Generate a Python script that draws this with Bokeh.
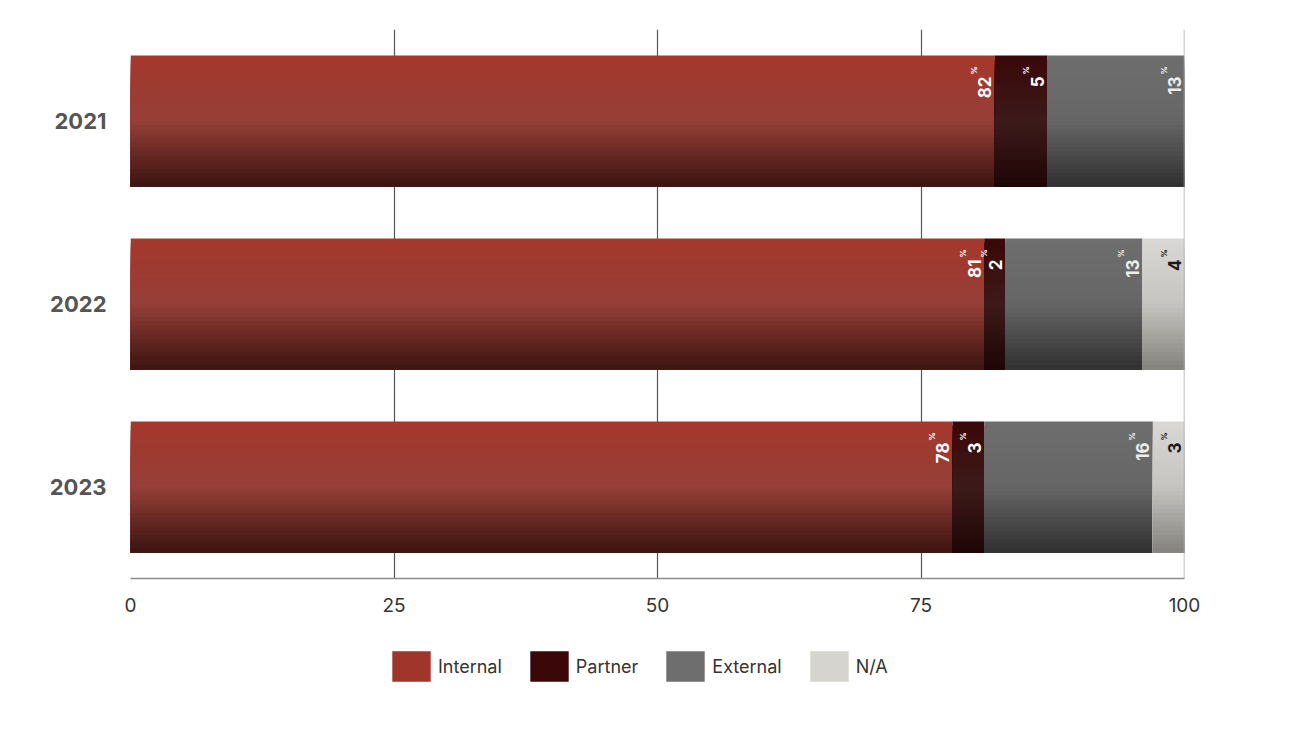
import numpy as np
from bokeh.plotting import figure
from bokeh.models import ColumnDataSource, FactorRange, FixedTicker, Legend, LegendItem, Span
from bokeh.layouts import column
from bokeh.transform import dodge
from bokeh.core.properties import value
from bokeh.embed import file_html
from bokeh.resources import INLINE

# data (percent of respondents)
years = ["2021", "2022", "2023"]
categories = ["Internal", "Partner", "External", "N/A"]
internal = [82, 81, 78]
partner = [5, 2, 3]
external = [13, 13, 16]
not_applicable = [0, 4, 3]
x_ticks = [0, 25, 50, 75, 100]

series = [internal, partner, external, not_applicable]

# gradient stops per category (top, middle, bottom) and legend swatch
stops = {
    "Internal": ["#a5382c", "#953f38", "#3e1511"],
    "Partner": ["#3a0808", "#3d1a1a", "#1f0606"],
    "External": ["#6e6e6e", "#666666", "#323232"],
    "N/A": ["#d9d7d3", "#c6c4c0", "#86847f"],
}
swatch = {"Internal": "#a0352b", "Partner": "#3a0808", "External": "#6e6e6e", "N/A": "#d6d4cf"}
label_color = {"Internal": "#ffffff", "Partner": "#ffffff", "External": "#eeeeee", "N/A": "#1a1a1a"}

FONT = "Inter"
BAR_H = 0.716
N_STRIPS = 30


def hex_rgb(h):
    return np.array([int(h[i:i + 2], 16) for i in (1, 3, 5)], dtype=float)


def blend(cols, t):
    # t = 0 top, 1 bottom
    if t < 0.5:
        a, b, u = cols[0], cols[1], t / 0.5
    else:
        a, b, u = cols[1], cols[2], (t - 0.5) / 0.5
    c = hex_rgb(a) * (1 - u) + hex_rgb(b) * u
    return "#%02x%02x%02x" % tuple(int(round(v)) for v in c)


p = figure(y_range=FactorRange(factors=years[::-1]), x_range=(0, 100),
           width=1284, height=630,
           min_border_left=130, min_border_top=29, min_border_right=100, min_border_bottom=52,
           output_backend="svg", toolbar_location=None)

# separate strip of a figure that only carries the legend
leg = figure(y_range=FactorRange(factors=years), x_range=(1000, 1100),
             width=1284, height=60, min_border=0,
             x_axis_location=None, y_axis_location=None,
             output_backend="svg", toolbar_location=None)
leg.grid.grid_line_color = None
leg.outline_line_color = None

left = np.zeros(len(years))
label_x, label_y, label_t, label_c = [], [], [], []
legend_items = []
sh = BAR_H / N_STRIPS
for cat, vals in zip(categories, series):
    vals = np.array(vals, dtype=float)
    right = left + vals
    src = ColumnDataSource(dict(year=years, left=left.copy(), right=right.copy()))
    # each strip runs from its own top down to the bar bottom, drawn top first,
    # so the later (darker) strips cover the lower part without seams
    for k in range(N_STRIPS):
        top = BAR_H / 2 - k * sh
        bot = -BAR_H / 2
        col = blend(stops[cat], k / (N_STRIPS - 1))
        p.hbar(y=dodge("year", (top + bot) / 2, range=p.y_range), left="left", right="right",
               height=top - bot, source=src, fill_color=col, line_color=None)
    # same bars in the legend strip, flat and outside its visible x range
    r = leg.hbar(y="year", left="left", right="right", height=0, source=src,
                 fill_color=swatch[cat], line_color=None)
    legend_items.append(LegendItem(label=cat, renderers=[r], index=len(years) - 1))
    for yr, v, rr in zip(years, vals, right):
        if v > 0:
            label_x.append(rr)
            label_y.append(yr)
            label_t.append("%d" % v)
            label_c.append(label_color[cat])
    left = right

lab = ColumnDataSource(dict(x=label_x, y=label_y, text=label_t, color=label_c,
                            pct=["%"] * len(label_t)))
top_y = dodge("y", BAR_H / 2, range=p.y_range)
p.text(x="x", y=top_y, text="text", source=lab, angle=np.pi / 2,
       text_align="right", text_baseline="alphabetic", x_offset=-10, y_offset=21,
       text_color="color", text_font=value(FONT), text_font_style="bold",
       text_font_size="17px")
p.text(x="x", y=top_y, text="pct", source=lab, angle=np.pi / 2,
       text_align="right", text_baseline="top", x_offset=-26, y_offset=11,
       text_color="color", text_font=value(FONT), text_font_style="bold",
       text_font_size="8px")

legend = Legend(items=legend_items, orientation="horizontal", location=(257, 5),
                glyph_width=48, glyph_height=38, label_standoff=3, spacing=23,
                label_text_font=FONT, label_text_font_size="18px", label_text_color="#333333",
                border_line_color=None, background_fill_alpha=0, margin=0, padding=8)
leg.add_layout(legend, "center")

# grid and axes
p.xgrid.ticker = FixedTicker(ticks=x_ticks[:-1])
p.xgrid.grid_line_color = "#555555"
p.xgrid.grid_line_width = 1.2
p.ygrid.grid_line_color = None
p.add_layout(Span(location=x_ticks[-1], dimension="height", line_color="#aaaaaa", line_width=1.5))
p.outline_line_color = None

p.xaxis.ticker = FixedTicker(ticks=x_ticks)
p.xaxis.axis_line_color = "#8a8a8a"
p.xaxis.axis_line_width = 1.5
p.xaxis.major_tick_line_color = None
p.xaxis.minor_tick_line_color = None
p.xaxis.major_label_standoff = 13
p.xaxis.major_label_text_font = FONT
p.xaxis.major_label_text_font_size = "19px"
p.xaxis.major_label_text_color = "#333333"

p.yaxis.axis_line_color = None
p.yaxis.major_tick_line_color = None
p.yaxis.major_label_standoff = 18
p.yaxis.major_label_text_font = FONT
p.yaxis.major_label_text_font_size = "22px"
p.yaxis.major_label_text_color = "#555555"
p.yaxis.major_label_text_font_style = "bold"

open("out.html", "w").write(file_html(column(p, leg), INLINE))
